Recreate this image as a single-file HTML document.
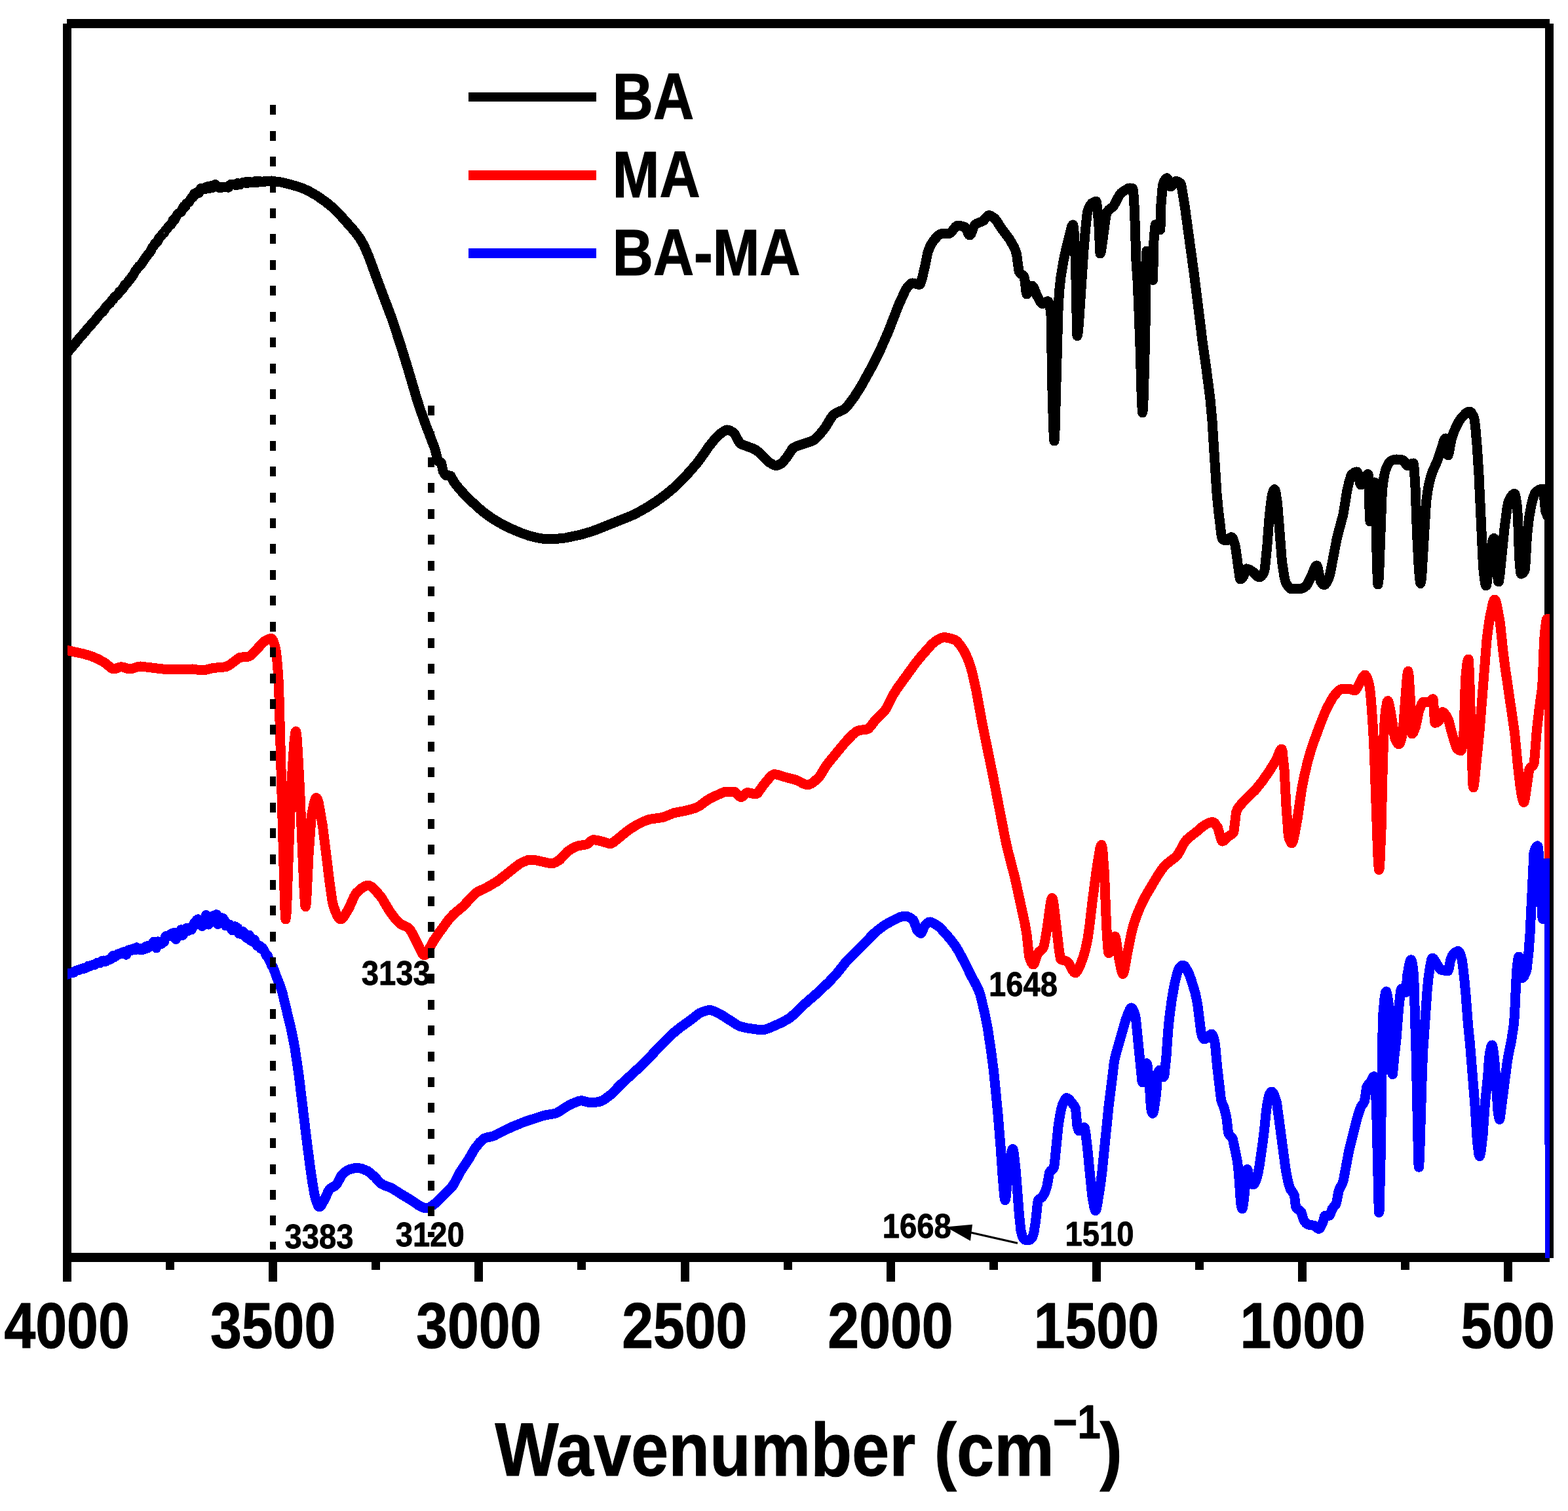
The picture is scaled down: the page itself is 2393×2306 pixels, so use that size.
<!DOCTYPE html>
<html lang="en"><head><meta charset="utf-8"><title>FTIR spectra of BA, MA and BA-MA</title>
<style>
html,body{margin:0;padding:0;background:#fff;}
body{width:2393px;height:2306px;overflow:hidden;}
svg{display:block;}
text{font-family:"Liberation Sans",sans-serif;font-weight:bold;fill:#000;}
.c{fill:none;stroke-width:15.0;stroke-linejoin:round;stroke-linecap:round;}
</style></head><body>
<svg width="2393" height="2306" viewBox="0 0 2393 2306">
<rect x="0" y="0" width="2393" height="2306" fill="#fff"/>
<defs><clipPath id="plot"><rect x="103" y="36" width="2262" height="1884"/></clipPath></defs>

<g fill="#000" shape-rendering="crispEdges">
<rect x="96" y="36" width="13" height="1919.5"/>
<rect x="102" y="29" width="2263" height="14"/>
<rect x="2358" y="36" width="13" height="1884"/>
<rect x="96" y="1912" width="2269" height="14"/>
<rect x="410.2" y="1919" width="13" height="36.5"/>
<rect x="724.3" y="1919" width="13" height="36.5"/>
<rect x="1038.5" y="1919" width="13" height="36.5"/>
<rect x="1352.6" y="1919" width="13" height="36.5"/>
<rect x="1666.8" y="1919" width="13" height="36.5"/>
<rect x="1980.9" y="1919" width="13" height="36.5"/>
<rect x="2295.1" y="1919" width="13" height="36.5"/>
<rect x="253.1" y="1919" width="13" height="19"/>
<rect x="567.2" y="1919" width="13" height="19"/>
<rect x="881.4" y="1919" width="13" height="19"/>
<rect x="1195.5" y="1919" width="13" height="19"/>
<rect x="1509.7" y="1919" width="13" height="19"/>
<rect x="1823.9" y="1919" width="13" height="19"/>
<rect x="2138.0" y="1919" width="13" height="19"/>
</g>
<g clip-path="url(#plot)" shape-rendering="crispEdges">
<polyline class="c" stroke="#000" points="102.5,538.3 104.5,536.4 106.5,533.4 108.5,531.7 122.5,514.4 124.5,512.8 128.5,507.5 130.5,506.0 132.5,502.9 142.5,491.7 154.5,477.1 156.5,476.0 158.5,473.7 160.5,470.2 162.5,467.7 168.5,462.0 170.5,458.5 172.5,457.1 174.5,453.8 180.5,448.5 182.5,444.9 184.5,443.5 188.5,438.9 190.5,434.8 194.5,431.7 196.5,428.0 198.5,426.3 200.5,423.1 202.5,420.9 206.5,413.9 212.5,406.0 214.5,404.9 220.5,395.5 228.5,385.1 230.5,382.1 232.5,377.4 234.5,375.4 236.5,371.8 238.5,370.5 240.5,368.6 242.5,363.8 246.5,359.4 248.5,356.4 250.5,355.5 252.5,351.5 254.5,349.8 256.5,346.8 258.5,344.5 260.5,343.1 262.5,340.6 264.5,335.2 266.5,335.2 270.5,327.6 274.5,324.2 276.5,323.4 280.5,315.1 282.5,315.9 284.5,310.5 288.5,308.3 290.5,304.5 292.5,301.8 294.5,301.1 296.5,295.4 298.5,296.0 300.5,293.5 302.5,295.1 304.5,292.9 306.5,287.6 308.5,287.4 312.5,288.6 314.5,285.5 316.5,284.8 318.5,287.5 320.5,287.1 322.5,283.4 324.5,286.5 326.5,282.9 328.5,281.4 330.5,284.2 332.5,285.0 334.5,286.5 336.5,286.9 338.5,285.6 344.5,285.1 346.5,285.3 348.5,286.2 350.5,282.9 352.5,281.2 354.5,281.7 356.5,281.2 358.5,281.5 360.5,282.9 362.5,279.6 366.5,281.8 368.5,279.4 370.5,278.4 372.5,278.7 374.5,277.8 376.5,279.8 378.5,277.5 380.5,277.3 382.5,278.9 384.5,278.6 386.5,277.8 388.5,278.6 390.5,276.3 392.5,278.4 396.5,276.7 398.5,277.7 400.5,277.2 402.5,277.8 404.5,276.1 406.5,276.9 410.5,276.9 414.5,276.0 416.5,276.7 418.5,276.5 420.5,277.2 424.5,277.2 436.0,279.6 452.5,284.1 460.0,286.6 471.0,291.4 483.5,298.7 497.0,308.0 509.5,318.4 519.5,328.6 541.5,353.4 549.5,364.2 555.5,374.5 563.5,393.4 576.0,427.7 598.5,487.4 612.0,528.5 623.0,564.3 635.5,606.8 641.0,624.0 649.0,646.3 663.0,683.0 664.5,687.7 668.0,702.1 669.0,704.0 672.5,705.6 673.5,706.9 676.5,719.8 678.5,723.3 680.0,725.0 681.5,725.9 687.0,726.0 688.0,726.5 693.0,736.0 701.5,746.7 714.5,760.6 731.0,775.8 739.5,782.8 748.5,789.3 758.0,795.4 767.5,800.8 780.5,807.1 796.5,813.9 807.5,817.6 819.0,820.5 830.0,822.5 835.5,823.0 849.0,822.4 863.0,820.9 886.5,815.9 902.0,811.3 910.5,808.3 959.5,788.7 968.0,785.0 977.0,780.3 990.0,772.7 1000.5,765.9 1012.0,757.8 1022.5,749.5 1031.0,742.1 1040.0,733.3 1053.5,718.8 1064.0,706.5 1069.5,699.3 1081.0,682.6 1091.0,670.0 1094.5,666.3 1101.5,660.2 1107.0,656.6 1109.5,656.0 1112.0,656.3 1114.5,657.3 1117.5,659.1 1120.0,661.0 1121.5,662.7 1127.5,673.9 1130.0,677.0 1133.0,678.5 1149.0,684.5 1154.5,687.3 1158.5,690.5 1174.0,705.6 1180.0,709.3 1183.5,710.5 1186.0,710.2 1188.5,709.3 1192.5,707.2 1194.5,705.5 1201.0,697.7 1208.5,686.0 1211.5,683.0 1216.5,680.7 1237.0,673.9 1241.0,672.1 1244.0,670.3 1250.0,664.4 1259.5,652.3 1268.0,638.2 1271.5,633.5 1276.0,630.3 1287.5,625.0 1290.0,623.2 1293.0,620.1 1304.0,605.4 1314.0,589.7 1332.0,557.2 1344.0,532.8 1355.5,506.6 1371.5,465.4 1382.0,442.5 1384.0,439.4 1387.0,435.9 1391.0,432.4 1392.5,432.0 1394.0,432.1 1402.5,434.5 1403.5,434.3 1404.5,433.1 1407.0,425.8 1411.5,407.3 1416.0,384.6 1420.0,374.8 1425.0,366.7 1431.5,359.8 1435.5,357.0 1437.5,356.5 1448.0,356.5 1450.0,355.8 1452.5,353.4 1458.0,346.5 1459.5,345.2 1461.0,344.5 1467.0,344.9 1472.5,346.3 1474.0,348.3 1478.5,357.9 1479.5,358.9 1480.5,358.8 1482.0,356.8 1486.0,346.4 1488.0,343.0 1491.5,340.8 1498.0,338.2 1501.0,336.6 1506.5,330.2 1508.5,328.8 1510.5,328.9 1513.5,330.2 1517.5,333.0 1520.0,335.6 1529.5,350.3 1541.0,365.6 1547.5,377.0 1549.5,381.7 1551.5,388.0 1554.5,410.6 1555.5,414.9 1557.5,417.5 1561.5,420.4 1563.0,422.6 1564.0,427.8 1566.0,445.2 1567.0,449.0 1568.0,448.4 1569.0,447.0 1573.5,437.2 1574.5,436.1 1575.5,436.1 1577.5,438.7 1582.5,450.8 1587.0,459.3 1589.0,462.4 1590.5,463.5 1592.0,463.4 1597.0,460.3 1599.0,459.7 1600.0,460.4 1601.0,462.6 1603.0,472.1 1604.0,481.9 1606.0,595.4 1607.5,648.5 1608.5,669.9 1609.0,673.0 1610.0,656.9 1615.0,473.9 1616.5,445.5 1619.0,422.1 1623.5,396.1 1627.0,379.8 1635.5,346.2 1637.0,343.2 1637.5,343.0 1638.0,344.3 1639.0,353.5 1640.0,369.6 1641.5,401.4 1643.5,503.3 1644.0,512.6 1645.0,509.1 1646.5,493.5 1654.0,380.9 1656.5,350.8 1659.0,327.0 1660.0,322.0 1661.0,319.1 1663.5,313.6 1666.0,310.4 1671.0,307.8 1673.0,307.5 1673.5,308.4 1675.0,319.9 1677.0,346.0 1679.0,387.0 1680.0,385.1 1681.0,380.1 1687.5,331.6 1689.0,324.7 1692.0,320.4 1697.5,316.3 1700.0,313.6 1708.0,298.4 1711.0,294.6 1714.5,291.9 1722.0,287.4 1724.5,287.0 1728.5,287.6 1729.0,288.6 1730.0,297.6 1731.5,321.0 1734.0,399.0 1736.0,428.0 1737.5,461.7 1740.0,528.5 1742.5,614.5 1743.5,629.9 1744.0,628.3 1745.0,611.2 1746.5,562.5 1748.0,499.2 1749.5,395.2 1750.0,383.0 1751.0,384.1 1752.0,386.9 1755.0,400.0 1758.0,421.8 1759.0,426.7 1759.5,427.4 1761.0,367.0 1762.5,347.5 1763.0,344.2 1763.5,343.0 1764.0,343.1 1765.5,344.5 1769.0,349.9 1770.5,351.0 1771.0,346.5 1772.0,311.5 1774.0,287.4 1775.0,281.1 1776.5,277.1 1779.0,272.9 1781.0,271.8 1781.5,272.1 1782.5,274.2 1785.0,282.6 1786.0,284.7 1787.0,284.9 1788.0,284.3 1793.0,277.7 1794.5,276.6 1795.5,276.5 1798.5,277.4 1801.5,279.6 1802.5,281.7 1803.5,286.0 1808.5,317.1 1823.0,423.1 1835.0,520.0 1841.5,566.2 1847.0,609.2 1850.0,642.6 1857.0,753.0 1859.5,779.1 1864.0,816.3 1865.5,822.7 1868.5,824.4 1871.0,824.9 1873.0,824.7 1877.5,820.5 1879.0,819.6 1880.5,820.3 1882.0,823.0 1884.5,830.3 1885.5,834.5 1891.5,878.3 1892.5,883.3 1893.0,884.0 1895.0,882.9 1897.5,879.9 1901.0,870.4 1902.5,868.0 1906.0,868.9 1912.5,872.9 1918.5,879.2 1921.0,880.9 1923.0,880.8 1925.0,879.5 1927.0,877.0 1929.0,873.6 1930.0,869.4 1931.5,857.1 1934.0,831.0 1937.0,790.9 1939.5,767.9 1941.5,754.9 1943.5,748.6 1945.0,746.6 1946.0,748.1 1947.0,751.9 1949.5,767.4 1956.5,857.2 1960.0,880.0 1961.5,886.6 1963.0,890.6 1967.5,896.9 1969.5,898.4 1971.0,899.0 1983.5,898.9 1987.0,897.9 1990.5,896.2 1993.5,894.1 1995.5,891.2 2002.0,877.9 2006.5,866.7 2008.0,864.1 2009.5,863.0 2010.0,863.3 2011.0,865.8 2015.5,887.5 2017.5,890.4 2019.5,892.2 2021.0,892.7 2022.5,892.0 2024.0,890.2 2026.0,886.5 2029.0,879.2 2030.0,875.5 2040.5,820.5 2050.0,785.0 2056.0,747.7 2059.5,733.4 2061.5,727.2 2063.0,724.2 2067.0,721.1 2069.0,720.3 2071.0,720.0 2071.5,720.4 2072.5,723.1 2075.5,736.9 2076.5,739.6 2077.0,740.0 2078.5,738.3 2081.5,731.2 2084.0,727.3 2086.0,724.6 2088.0,723.5 2088.5,728.9 2090.0,777.2 2091.0,796.0 2091.5,795.0 2092.5,788.1 2096.5,740.4 2097.5,736.0 2098.0,738.4 2099.0,762.0 2101.5,862.6 2102.5,888.2 2103.0,892.0 2104.0,884.8 2105.0,866.0 2109.0,757.8 2110.0,743.4 2111.5,732.1 2113.0,723.5 2114.5,717.5 2116.5,712.3 2119.0,707.5 2121.5,704.3 2124.0,702.8 2128.0,701.2 2131.5,701.0 2137.5,701.5 2141.5,702.3 2143.0,704.1 2146.0,709.1 2147.5,710.6 2150.0,710.2 2156.0,707.1 2157.0,707.0 2157.5,708.5 2158.5,718.8 2160.0,743.4 2162.5,814.0 2165.0,861.3 2166.5,882.2 2167.5,889.5 2168.0,890.5 2169.0,886.2 2170.0,874.8 2176.5,766.7 2179.5,744.9 2183.0,729.7 2186.5,719.1 2193.5,703.5 2203.5,673.2 2205.0,669.8 2206.0,669.0 2206.5,670.2 2209.0,692.0 2209.5,694.5 2210.0,694.9 2211.5,690.2 2215.0,670.8 2218.5,660.1 2222.0,651.8 2226.5,643.2 2230.5,637.2 2237.0,630.6 2239.5,628.9 2241.5,628.1 2243.5,628.2 2245.0,629.3 2246.5,631.3 2248.5,635.1 2250.0,639.0 2251.5,649.9 2254.5,684.8 2257.0,725.0 2263.5,864.2 2265.5,883.4 2266.5,889.9 2267.5,893.5 2268.0,894.0 2268.5,893.1 2269.0,890.6 2272.5,855.5 2275.5,837.1 2278.0,825.2 2279.0,822.5 2280.0,821.5 2281.0,827.3 2285.5,880.0 2286.5,887.0 2287.0,888.0 2287.5,887.2 2289.0,877.3 2296.0,806.4 2300.0,776.0 2301.5,767.9 2302.5,764.8 2305.5,758.9 2308.0,755.4 2310.5,753.6 2311.5,753.4 2312.0,753.8 2313.5,759.4 2315.0,770.5 2316.5,788.9 2318.5,848.8 2320.0,867.6 2321.0,874.9 2321.5,876.0 2324.0,874.9 2327.0,870.5 2328.0,861.2 2330.5,817.1 2333.5,790.8 2337.0,770.7 2340.0,759.4 2342.5,752.8 2344.0,750.7 2348.0,748.0 2351.5,746.5 2355.0,746.0 2356.0,751.5 2358.5,779.1 2361.5,787.5 2363.0,789.6 2364.0,790.0 2365.6,2000.0"/>
<polyline class="c" stroke="#f00" points="102.5,992.4 126.5,997.7 135.5,1000.2 143.0,1002.8 150.5,1006.3 160.0,1011.5 169.5,1019.3 171.5,1020.4 173.5,1021.0 176.0,1020.7 182.5,1018.2 185.0,1017.8 188.0,1018.2 195.5,1020.7 199.0,1021.0 202.5,1020.2 210.5,1017.5 214.5,1017.0 255.0,1021.8 265.5,1022.0 293.5,1021.0 306.0,1022.8 310.0,1023.0 314.0,1022.3 324.5,1019.5 340.5,1018.2 345.5,1017.4 350.5,1014.7 365.0,1003.8 368.5,1003.1 377.5,1002.3 380.5,1001.5 383.0,999.9 385.5,997.6 403.0,979.0 410.5,975.0 413.5,974.3 415.0,974.8 416.5,977.1 418.5,982.4 420.5,989.7 421.5,995.7 423.5,1014.7 425.5,1045.0 434.5,1376.8 435.5,1399.7 436.0,1403.0 437.0,1394.8 438.0,1373.9 440.5,1301.5 445.0,1192.0 449.0,1132.1 450.5,1118.9 451.5,1116.0 452.0,1117.1 453.0,1124.9 454.5,1147.0 457.5,1203.7 464.0,1355.0 465.5,1379.2 466.0,1383.0 466.5,1383.9 467.0,1381.3 468.0,1367.3 471.0,1305.0 475.0,1249.6 476.0,1241.8 479.0,1226.7 481.0,1220.0 482.0,1218.2 483.0,1217.5 484.5,1219.3 486.5,1226.2 492.5,1260.8 503.5,1350.2 507.0,1374.4 508.5,1381.4 511.0,1388.6 514.0,1396.0 516.5,1400.4 518.5,1402.5 520.5,1403.0 522.5,1401.9 524.5,1399.6 532.5,1386.3 540.5,1368.1 544.0,1362.5 550.5,1356.5 556.0,1352.9 558.5,1351.9 561.0,1351.4 563.0,1351.5 565.0,1352.2 567.5,1353.7 570.5,1356.3 580.5,1367.5 584.0,1372.7 594.0,1389.6 602.0,1400.5 606.5,1405.9 611.5,1410.3 621.5,1415.0 624.0,1416.8 625.5,1418.4 629.5,1425.0 637.5,1440.8 643.5,1453.7 645.5,1456.7 647.5,1457.8 649.5,1457.0 651.5,1454.7 661.5,1436.0 673.0,1419.4 686.5,1401.3 692.5,1395.0 707.0,1382.9 722.5,1366.2 726.0,1363.1 729.5,1360.8 743.5,1354.0 759.5,1344.6 789.0,1321.3 793.5,1318.1 797.5,1316.0 805.5,1312.7 808.5,1312.1 811.0,1312.0 818.5,1313.0 838.0,1317.3 841.5,1317.7 844.0,1317.5 848.0,1315.9 854.5,1312.0 865.5,1300.1 873.0,1295.0 878.0,1292.4 882.0,1290.9 895.0,1288.8 897.0,1287.6 902.5,1282.9 904.5,1281.9 907.5,1281.9 912.5,1282.7 919.5,1284.4 928.5,1287.2 931.0,1287.5 933.0,1287.2 937.0,1284.9 956.5,1269.0 962.5,1264.7 972.0,1258.8 982.0,1253.8 987.5,1251.6 992.5,1250.1 1011.5,1247.5 1028.5,1240.7 1047.5,1237.0 1061.0,1233.2 1067.0,1230.4 1077.5,1222.4 1083.0,1219.1 1091.0,1215.0 1105.5,1208.6 1109.0,1208.0 1121.0,1208.2 1123.0,1209.6 1128.5,1215.5 1131.0,1216.6 1133.0,1215.8 1138.0,1210.9 1140.0,1209.8 1143.5,1210.0 1151.0,1211.8 1154.0,1211.8 1155.5,1211.0 1157.5,1208.9 1164.5,1198.8 1174.5,1186.7 1177.5,1183.7 1180.5,1181.9 1183.0,1181.7 1187.0,1182.4 1197.0,1185.6 1213.0,1189.8 1217.0,1191.3 1226.0,1195.9 1230.0,1197.3 1234.0,1197.5 1238.5,1195.8 1243.5,1192.0 1250.0,1185.9 1253.0,1181.6 1260.0,1169.8 1264.5,1163.8 1290.5,1132.2 1300.5,1121.9 1305.5,1117.4 1309.5,1115.1 1313.0,1114.3 1322.5,1113.2 1325.5,1112.0 1328.5,1108.8 1336.0,1098.8 1349.0,1086.3 1353.0,1080.7 1363.0,1060.6 1369.5,1050.4 1397.5,1011.8 1407.0,1000.2 1422.0,983.3 1427.5,978.6 1433.5,975.0 1437.5,973.3 1440.0,972.8 1443.0,972.8 1451.0,974.4 1457.5,976.7 1460.5,978.8 1465.0,984.0 1470.5,992.1 1474.0,998.6 1478.0,1008.2 1481.5,1018.2 1484.0,1027.3 1490.0,1054.4 1498.5,1101.4 1515.0,1182.0 1534.5,1282.1 1538.5,1299.5 1549.0,1340.0 1564.0,1409.0 1567.0,1426.4 1570.5,1458.8 1572.0,1464.0 1574.0,1468.8 1576.0,1471.6 1577.0,1472.0 1578.0,1471.2 1579.5,1467.7 1583.5,1455.5 1585.5,1452.8 1590.5,1448.8 1592.0,1446.7 1593.0,1444.0 1594.5,1437.2 1598.5,1413.5 1603.5,1376.7 1604.5,1372.3 1605.5,1370.4 1606.0,1370.7 1607.0,1373.6 1608.5,1382.7 1616.5,1451.4 1618.5,1463.1 1619.0,1464.0 1620.5,1464.9 1627.0,1466.6 1629.5,1468.1 1632.0,1471.6 1637.0,1481.0 1639.5,1484.2 1641.0,1484.8 1642.0,1484.5 1644.5,1481.8 1648.0,1474.5 1653.5,1459.7 1656.5,1448.9 1660.0,1432.4 1662.5,1415.5 1667.5,1372.7 1673.0,1330.6 1678.5,1296.4 1680.0,1290.7 1681.0,1289.4 1682.0,1292.4 1683.0,1300.6 1685.5,1334.0 1688.5,1410.8 1690.5,1443.4 1691.5,1453.2 1692.0,1454.6 1693.5,1452.9 1699.5,1431.9 1701.0,1429.2 1701.5,1429.0 1702.0,1429.4 1703.5,1435.0 1707.0,1458.5 1710.5,1476.9 1712.0,1483.5 1713.5,1486.4 1714.5,1485.4 1716.0,1480.3 1720.0,1457.6 1727.5,1420.4 1730.5,1409.8 1734.5,1398.0 1740.5,1383.4 1748.0,1368.0 1765.0,1339.3 1772.5,1327.7 1776.5,1322.5 1780.0,1318.8 1792.0,1309.7 1797.0,1304.8 1800.0,1300.2 1807.0,1286.7 1811.0,1281.5 1815.5,1277.4 1826.0,1269.5 1835.5,1261.2 1840.5,1257.9 1846.0,1255.5 1849.5,1254.6 1852.0,1254.8 1854.0,1256.4 1858.5,1262.9 1863.5,1280.5 1864.5,1283.0 1865.5,1284.0 1868.0,1283.0 1874.0,1277.0 1880.5,1272.7 1882.5,1270.2 1883.0,1268.8 1886.5,1239.9 1889.0,1234.0 1891.5,1230.3 1899.5,1221.5 1915.5,1206.0 1926.5,1192.2 1936.5,1177.8 1945.0,1164.2 1948.5,1157.8 1953.0,1146.6 1955.0,1143.5 1956.0,1143.0 1957.0,1145.7 1960.0,1174.0 1963.0,1230.4 1966.0,1271.8 1967.0,1278.4 1968.5,1282.8 1970.5,1286.3 1971.5,1286.8 1972.0,1286.6 1973.0,1284.7 1974.0,1281.4 1976.0,1272.0 1980.0,1250.0 1986.5,1204.8 1990.5,1184.5 1995.0,1165.2 1999.5,1148.8 2004.5,1133.3 2015.0,1105.1 2022.0,1087.6 2026.5,1078.0 2033.5,1065.4 2037.0,1060.6 2043.0,1054.2 2046.0,1051.9 2049.0,1051.0 2059.5,1051.0 2066.0,1053.8 2067.5,1054.0 2068.5,1053.6 2071.0,1050.3 2080.5,1032.3 2082.5,1030.1 2084.0,1030.4 2086.0,1033.6 2088.0,1039.4 2090.0,1047.0 2091.5,1058.1 2093.5,1082.5 2095.5,1112.6 2097.5,1152.7 2102.5,1297.1 2103.5,1318.0 2104.5,1327.6 2105.0,1326.5 2106.0,1314.2 2108.0,1266.6 2110.5,1162.6 2112.0,1121.3 2113.5,1094.5 2115.0,1081.7 2117.0,1071.1 2118.0,1069.5 2119.0,1070.8 2120.5,1076.5 2124.0,1096.0 2127.5,1119.8 2129.0,1127.4 2131.5,1132.6 2133.5,1135.2 2135.0,1135.9 2136.5,1134.4 2138.5,1128.3 2141.0,1116.3 2147.0,1037.3 2148.0,1028.1 2149.0,1024.4 2150.0,1030.5 2151.0,1044.8 2152.5,1070.6 2154.0,1108.1 2155.0,1120.0 2156.0,1119.5 2157.0,1118.0 2160.5,1109.0 2165.5,1085.3 2168.5,1077.3 2170.5,1073.2 2172.0,1071.4 2173.0,1071.0 2182.0,1071.0 2183.0,1070.4 2186.0,1067.1 2187.0,1066.7 2187.5,1069.4 2189.0,1093.9 2190.0,1103.4 2193.0,1102.5 2196.0,1100.4 2197.0,1098.3 2200.0,1088.5 2201.0,1086.7 2202.5,1086.8 2204.0,1087.9 2207.0,1092.1 2211.0,1100.2 2216.5,1121.3 2222.5,1140.7 2223.5,1142.5 2225.0,1143.8 2227.5,1145.2 2229.5,1145.7 2230.5,1144.2 2231.5,1139.3 2234.0,1116.2 2236.5,1035.9 2239.0,1012.6 2240.0,1007.7 2241.0,1006.0 2241.5,1009.0 2242.5,1028.3 2247.0,1175.6 2248.0,1198.4 2248.5,1202.0 2249.0,1201.0 2250.0,1194.2 2258.0,1116.4 2269.0,976.4 2271.5,956.4 2274.0,941.0 2278.5,920.0 2280.0,915.9 2281.0,915.0 2282.5,916.7 2284.5,923.4 2289.5,951.3 2294.0,994.7 2296.5,1014.8 2311.5,1117.5 2316.5,1169.5 2320.0,1198.9 2322.0,1212.2 2323.5,1219.0 2325.0,1224.1 2325.5,1224.7 2326.0,1224.3 2327.5,1217.8 2333.5,1175.6 2334.0,1174.0 2335.5,1171.6 2338.5,1169.2 2340.0,1167.5 2341.0,1165.5 2341.5,1163.1 2345.5,1112.6 2349.5,1078.8 2353.5,1050.4 2354.5,1032.8 2356.5,977.7 2358.0,961.1 2359.5,949.1 2360.5,945.1 2361.0,944.5 2364.0,944.5 2365.6,2000.0"/>
<polyline class="c" stroke="#00f" points="102.5,1487.1 104.5,1486.6 106.5,1485.2 110.5,1484.9 112.5,1484.2 114.5,1482.0 118.5,1480.4 120.5,1480.5 122.5,1478.9 126.5,1478.8 128.5,1477.2 130.5,1477.4 132.5,1476.5 134.5,1474.3 136.5,1474.9 138.5,1473.4 140.5,1473.1 142.5,1472.0 144.5,1472.4 148.5,1469.3 152.5,1469.8 154.5,1467.4 156.5,1466.2 158.5,1466.0 160.5,1467.5 162.5,1466.9 164.5,1464.8 166.5,1465.1 168.5,1464.1 172.5,1458.4 174.5,1460.8 176.5,1459.4 180.5,1455.7 182.5,1456.1 184.5,1455.8 186.5,1453.5 188.5,1452.8 190.5,1453.6 192.5,1457.2 196.5,1449.7 198.5,1449.3 200.5,1450.7 202.5,1448.0 204.5,1447.7 206.5,1449.8 208.5,1445.8 210.5,1448.7 212.5,1447.1 214.5,1449.9 216.5,1449.8 220.5,1448.4 222.5,1444.7 224.5,1447.3 226.5,1443.2 228.5,1445.2 230.5,1441.8 232.5,1442.5 234.5,1437.2 236.5,1438.6 238.5,1446.9 240.5,1436.9 242.5,1441.9 244.5,1440.5 246.5,1440.6 248.5,1436.5 250.5,1437.2 252.5,1429.2 254.5,1428.2 256.5,1428.9 260.5,1425.4 262.5,1424.7 264.5,1429.7 266.5,1423.3 268.5,1433.4 270.5,1428.4 272.5,1425.3 274.5,1426.7 276.5,1418.8 278.5,1427.6 282.5,1421.8 284.5,1416.7 286.5,1421.0 290.5,1415.7 292.5,1418.8 296.5,1408.3 298.5,1410.5 300.5,1403.8 302.5,1402.9 304.5,1411.0 306.5,1411.2 308.5,1413.7 310.5,1411.1 312.5,1405.2 314.5,1396.6 318.5,1411.0 320.5,1408.3 322.5,1402.3 324.5,1401.6 326.5,1397.1 328.5,1396.9 330.5,1395.7 332.5,1410.6 334.5,1407.0 336.5,1400.1 338.5,1405.3 340.5,1401.4 342.5,1404.9 344.5,1412.8 346.5,1412.8 350.5,1411.0 352.5,1416.0 354.5,1419.8 356.5,1416.0 358.5,1413.8 362.5,1416.0 364.5,1424.8 366.5,1422.3 368.5,1426.0 370.5,1421.4 372.5,1423.5 374.5,1428.4 376.5,1431.5 378.5,1428.2 380.5,1427.3 382.5,1435.4 384.5,1432.1 386.5,1437.4 388.5,1434.3 390.5,1440.4 392.5,1443.4 394.5,1444.3 396.5,1443.4 398.5,1448.3 400.5,1446.4 404.5,1453.5 406.5,1458.8 408.5,1458.2 410.5,1464.8 412.5,1468.0 414.5,1473.0 416.5,1476.0 418.5,1480.8 422.5,1492.1 428.0,1505.8 431.0,1515.2 445.0,1573.6 450.0,1599.4 456.0,1640.0 467.5,1735.5 472.5,1774.5 477.0,1805.9 480.5,1825.7 483.5,1835.4 485.5,1840.1 486.5,1841.4 487.5,1841.8 488.5,1841.4 490.0,1839.9 496.0,1829.4 500.5,1819.0 502.5,1815.4 505.0,1813.2 511.0,1809.9 513.5,1807.7 515.5,1804.6 520.5,1795.0 524.0,1790.9 528.5,1787.2 532.5,1785.0 540.5,1782.9 546.5,1782.4 552.5,1783.6 561.0,1787.1 565.0,1790.0 572.0,1796.3 579.5,1804.4 582.5,1806.9 586.5,1808.9 595.5,1812.3 600.0,1814.6 612.5,1822.6 628.5,1832.2 640.0,1840.2 647.0,1843.3 651.5,1844.0 654.0,1843.4 656.5,1842.2 665.5,1835.6 677.0,1823.8 686.0,1815.4 689.5,1811.5 693.5,1805.5 702.0,1789.1 714.5,1770.4 724.5,1753.2 732.0,1743.6 737.5,1738.3 741.5,1736.4 751.0,1734.3 755.0,1732.9 767.5,1726.4 782.0,1719.5 800.0,1712.2 828.0,1703.0 834.0,1701.6 845.0,1699.7 849.5,1698.5 853.5,1696.3 862.5,1690.2 869.5,1686.3 874.5,1683.8 882.5,1680.7 886.0,1679.9 889.0,1679.9 899.0,1682.6 903.5,1683.0 915.0,1681.3 920.5,1679.0 925.5,1675.7 933.0,1669.8 948.0,1654.5 982.0,1623.4 1011.5,1592.2 1026.0,1578.0 1036.5,1569.3 1055.5,1555.6 1064.0,1548.8 1068.0,1546.1 1072.0,1544.3 1078.5,1542.2 1082.5,1541.6 1086.0,1541.9 1091.0,1543.7 1102.0,1549.4 1125.0,1564.2 1130.5,1566.8 1140.0,1569.0 1159.5,1571.7 1165.5,1571.6 1172.0,1569.8 1188.5,1562.6 1196.0,1559.0 1204.5,1554.0 1210.0,1549.6 1225.5,1534.5 1249.0,1514.0 1265.5,1498.2 1277.0,1485.9 1289.0,1470.6 1294.5,1464.3 1317.5,1441.5 1332.5,1425.9 1339.5,1419.6 1350.5,1411.7 1358.5,1407.0 1373.0,1399.7 1378.5,1398.2 1383.5,1398.3 1388.5,1400.3 1393.5,1403.9 1395.0,1406.7 1399.5,1419.3 1403.0,1423.2 1405.5,1424.4 1407.0,1422.7 1410.5,1414.0 1413.5,1410.5 1415.5,1408.6 1417.5,1407.3 1419.0,1407.0 1421.5,1407.4 1427.0,1410.2 1432.5,1414.0 1435.5,1416.6 1449.5,1432.3 1457.5,1442.7 1462.5,1450.8 1470.0,1464.6 1483.0,1490.8 1490.5,1504.6 1493.5,1511.1 1496.0,1518.0 1502.5,1544.8 1507.0,1567.2 1512.0,1600.2 1516.5,1634.2 1523.0,1700.2 1527.0,1749.5 1530.0,1793.6 1532.5,1823.5 1533.5,1830.7 1534.0,1831.7 1535.0,1828.0 1539.5,1782.3 1541.0,1770.4 1544.0,1756.4 1545.0,1754.1 1545.5,1753.7 1546.0,1754.1 1547.5,1761.5 1550.5,1789.1 1555.5,1854.9 1558.0,1878.0 1560.0,1886.6 1562.0,1890.4 1564.0,1892.2 1570.0,1892.6 1572.5,1891.7 1575.0,1889.3 1576.5,1885.5 1578.0,1880.0 1580.5,1864.2 1583.5,1836.4 1584.5,1831.7 1586.5,1829.5 1590.5,1827.0 1593.5,1822.4 1596.0,1816.2 1598.0,1809.8 1601.5,1789.9 1603.0,1787.3 1607.0,1783.9 1608.5,1781.2 1609.5,1775.0 1615.0,1719.5 1617.5,1703.1 1619.5,1693.2 1621.5,1686.2 1625.0,1678.5 1626.5,1676.4 1627.5,1675.7 1629.5,1676.1 1631.5,1677.8 1639.5,1687.4 1641.5,1691.5 1644.0,1718.0 1646.0,1725.2 1646.5,1725.8 1648.0,1725.5 1652.5,1721.6 1654.0,1720.7 1655.0,1720.8 1655.5,1722.1 1657.0,1730.9 1659.5,1751.2 1666.5,1823.2 1670.0,1843.4 1671.5,1847.4 1672.0,1847.6 1672.5,1847.0 1673.5,1844.0 1675.0,1836.1 1678.5,1814.6 1681.5,1792.3 1692.0,1688.8 1700.5,1620.0 1703.0,1608.8 1717.0,1559.6 1720.5,1549.4 1724.0,1541.2 1725.5,1538.7 1726.5,1538.0 1727.5,1538.3 1729.5,1541.2 1732.0,1548.2 1733.5,1554.7 1743.0,1650.6 1743.5,1651.7 1744.0,1651.0 1745.0,1647.4 1749.0,1624.4 1750.0,1622.6 1751.0,1625.2 1754.0,1651.7 1756.5,1690.9 1758.0,1697.7 1759.0,1699.4 1759.5,1699.0 1760.5,1696.4 1761.5,1691.6 1764.5,1670.0 1767.0,1638.5 1768.5,1634.5 1770.0,1633.0 1771.5,1634.6 1774.0,1640.8 1775.5,1643.3 1776.0,1643.5 1776.5,1642.7 1777.0,1640.5 1780.0,1611.8 1782.5,1575.6 1784.5,1554.5 1788.0,1527.6 1792.5,1501.5 1796.5,1485.6 1799.0,1478.6 1800.0,1477.0 1803.0,1474.0 1804.5,1473.2 1806.0,1473.1 1807.5,1474.0 1809.0,1475.8 1814.5,1485.7 1818.0,1495.3 1824.0,1515.1 1827.5,1531.7 1833.0,1575.0 1834.5,1581.2 1837.0,1585.5 1838.0,1586.0 1839.0,1585.9 1842.5,1583.8 1848.5,1578.1 1849.5,1578.1 1850.5,1579.3 1851.5,1581.6 1853.5,1588.5 1854.5,1593.8 1857.5,1626.8 1863.5,1678.1 1865.0,1683.2 1868.0,1690.0 1870.5,1699.5 1872.0,1707.0 1874.0,1724.3 1875.0,1730.0 1876.5,1732.4 1880.0,1735.6 1881.5,1738.9 1887.5,1767.7 1889.0,1777.0 1890.5,1791.2 1893.5,1835.0 1894.5,1840.9 1895.5,1844.3 1896.0,1844.8 1896.5,1843.8 1897.5,1837.6 1899.5,1820.3 1902.0,1792.4 1903.0,1785.5 1903.5,1784.5 1904.5,1786.9 1907.5,1802.9 1909.5,1805.6 1912.0,1807.5 1913.5,1807.6 1915.0,1805.7 1917.0,1800.8 1919.5,1792.7 1922.0,1779.5 1927.0,1745.0 1929.5,1724.9 1932.5,1694.6 1934.0,1684.8 1935.5,1676.6 1937.0,1670.9 1939.5,1666.5 1941.0,1666.0 1942.5,1667.1 1944.5,1670.7 1948.5,1682.7 1962.5,1787.1 1965.5,1801.9 1968.0,1811.3 1969.5,1815.1 1973.5,1820.3 1975.5,1824.7 1977.5,1841.3 1979.5,1844.6 1984.0,1847.7 1986.0,1850.0 1989.5,1861.8 1993.0,1866.6 1995.0,1868.3 1996.5,1869.0 2005.5,1870.2 2010.5,1874.6 2012.5,1875.5 2013.5,1875.2 2014.5,1874.2 2017.0,1869.6 2019.5,1863.5 2021.5,1856.0 2022.0,1855.4 2029.0,1855.2 2030.5,1852.4 2033.5,1844.2 2037.5,1839.7 2039.0,1837.4 2040.0,1833.8 2043.0,1818.0 2044.5,1814.1 2048.5,1806.5 2050.5,1800.2 2059.0,1754.8 2069.5,1712.8 2073.0,1700.3 2077.0,1689.0 2081.0,1683.7 2082.5,1680.7 2085.5,1659.8 2087.5,1656.0 2092.0,1651.0 2095.5,1643.9 2097.0,1642.6 2097.5,1643.8 2098.5,1652.7 2100.5,1687.0 2104.0,1837.3 2104.5,1850.6 2105.0,1849.8 2107.0,1771.8 2110.0,1576.1 2111.0,1545.0 2113.0,1523.4 2114.5,1514.7 2115.5,1513.0 2116.0,1513.5 2117.5,1519.5 2119.0,1530.0 2121.0,1560.0 2123.5,1620.5 2124.5,1635.2 2125.0,1639.3 2125.5,1639.7 2128.0,1612.0 2131.0,1585.7 2134.5,1540.5 2137.5,1513.5 2138.5,1509.3 2139.0,1509.0 2140.5,1510.1 2143.5,1514.1 2145.0,1515.0 2146.0,1509.0 2148.0,1487.0 2151.0,1470.7 2152.5,1465.8 2153.5,1464.7 2154.5,1466.3 2156.0,1474.4 2157.5,1488.3 2158.0,1499.7 2161.0,1603.6 2164.5,1764.3 2165.0,1777.6 2165.5,1781.3 2166.5,1766.4 2170.5,1633.6 2172.0,1600.4 2178.0,1513.3 2180.0,1492.4 2183.0,1472.1 2185.0,1463.3 2185.5,1462.3 2186.5,1462.1 2188.5,1464.0 2196.5,1477.4 2198.0,1479.4 2199.0,1480.0 2203.0,1481.0 2210.0,1481.7 2211.0,1479.5 2213.5,1465.8 2216.0,1459.1 2217.5,1456.6 2219.5,1454.6 2222.0,1452.7 2224.5,1451.6 2226.0,1451.6 2227.5,1453.4 2229.0,1457.2 2231.0,1464.0 2232.5,1473.6 2234.5,1491.5 2237.0,1518.0 2240.5,1564.1 2243.5,1593.6 2251.0,1687.4 2254.5,1743.1 2257.0,1762.2 2258.0,1764.6 2258.5,1764.1 2259.5,1760.5 2260.5,1754.2 2263.0,1732.5 2266.5,1682.8 2270.5,1644.0 2272.5,1615.6 2274.0,1605.1 2275.5,1597.9 2276.5,1595.3 2277.0,1595.0 2277.5,1595.6 2278.5,1599.7 2279.5,1606.7 2281.5,1625.8 2286.0,1695.9 2287.5,1705.5 2288.5,1708.4 2289.0,1707.8 2300.0,1622.6 2302.0,1610.3 2306.5,1588.6 2310.0,1565.8 2311.5,1548.8 2314.5,1483.5 2316.5,1465.1 2317.5,1460.6 2318.0,1460.0 2318.5,1460.9 2322.5,1492.9 2324.0,1492.4 2326.0,1489.9 2328.0,1485.5 2330.0,1479.4 2333.0,1452.8 2335.0,1425.0 2341.0,1301.0 2343.0,1294.9 2345.0,1291.7 2346.5,1291.0 2347.0,1291.6 2347.5,1294.0 2350.0,1320.8 2353.5,1393.9 2354.0,1400.7 2354.5,1402.5 2355.5,1394.1 2357.0,1369.8 2360.5,1325.1 2361.5,1318.0 2362.0,1317.0 2364.0,1317.0 2365.6,2000.0"/>
</g>
<g fill="#000" shape-rendering="crispEdges">
<rect x="411.5" y="160.3" width="9.8" height="15.0"/>
<rect x="411.5" y="199.7" width="9.8" height="15.0"/>
<rect x="411.5" y="239.1" width="9.8" height="15.0"/>
<rect x="411.5" y="278.6" width="9.8" height="15.0"/>
<rect x="411.5" y="318.0" width="9.8" height="15.0"/>
<rect x="411.5" y="357.4" width="9.8" height="15.0"/>
<rect x="411.5" y="396.8" width="9.8" height="15.0"/>
<rect x="411.5" y="436.2" width="9.8" height="15.0"/>
<rect x="411.5" y="475.7" width="9.8" height="15.0"/>
<rect x="411.5" y="515.1" width="9.8" height="15.0"/>
<rect x="411.5" y="554.5" width="9.8" height="15.0"/>
<rect x="411.5" y="593.9" width="9.8" height="15.0"/>
<rect x="411.5" y="633.3" width="9.8" height="15.0"/>
<rect x="411.5" y="672.8" width="9.8" height="15.0"/>
<rect x="411.5" y="712.2" width="9.8" height="15.0"/>
<rect x="411.5" y="751.6" width="9.8" height="15.0"/>
<rect x="411.5" y="791.0" width="9.8" height="15.0"/>
<rect x="411.5" y="830.4" width="9.8" height="15.0"/>
<rect x="411.5" y="869.9" width="9.8" height="15.0"/>
<rect x="411.5" y="909.3" width="9.8" height="15.0"/>
<rect x="411.5" y="948.7" width="9.8" height="15.0"/>
<rect x="411.5" y="988.1" width="9.8" height="15.0"/>
<rect x="411.5" y="1027.5" width="9.8" height="15.0"/>
<rect x="411.5" y="1067.0" width="9.8" height="15.0"/>
<rect x="411.5" y="1106.4" width="9.8" height="15.0"/>
<rect x="411.5" y="1145.8" width="9.8" height="15.0"/>
<rect x="411.5" y="1185.2" width="9.8" height="15.0"/>
<rect x="411.5" y="1224.6" width="9.8" height="15.0"/>
<rect x="411.5" y="1264.1" width="9.8" height="15.0"/>
<rect x="411.5" y="1303.5" width="9.8" height="15.0"/>
<rect x="411.5" y="1342.9" width="9.8" height="15.0"/>
<rect x="411.5" y="1382.3" width="9.8" height="15.0"/>
<rect x="411.5" y="1421.7" width="9.8" height="15.0"/>
<rect x="411.5" y="1461.2" width="9.8" height="15.0"/>
<rect x="411.5" y="1500.6" width="9.8" height="15.0"/>
<rect x="411.5" y="1540.0" width="9.8" height="15.0"/>
<rect x="411.5" y="1579.4" width="9.8" height="15.0"/>
<rect x="411.5" y="1618.8" width="9.8" height="15.0"/>
<rect x="411.5" y="1658.3" width="9.8" height="15.0"/>
<rect x="411.5" y="1697.7" width="9.8" height="15.0"/>
<rect x="411.5" y="1737.1" width="9.8" height="15.0"/>
<rect x="411.5" y="1776.5" width="9.8" height="15.0"/>
<rect x="411.5" y="1815.9" width="9.8" height="15.0"/>
<rect x="411.5" y="1855.4" width="9.8" height="15.0"/>
<rect x="411.5" y="1894.8" width="9.8" height="12.2"/>
<rect x="653.1" y="619.0" width="9.8" height="15.0"/>
<rect x="653.1" y="658.4" width="9.8" height="15.0"/>
<rect x="653.1" y="697.8" width="9.8" height="15.0"/>
<rect x="653.1" y="737.3" width="9.8" height="15.0"/>
<rect x="653.1" y="776.7" width="9.8" height="15.0"/>
<rect x="653.1" y="816.1" width="9.8" height="15.0"/>
<rect x="653.1" y="855.5" width="9.8" height="15.0"/>
<rect x="653.1" y="894.9" width="9.8" height="15.0"/>
<rect x="653.1" y="934.4" width="9.8" height="15.0"/>
<rect x="653.1" y="973.8" width="9.8" height="15.0"/>
<rect x="653.1" y="1013.2" width="9.8" height="15.0"/>
<rect x="653.1" y="1052.6" width="9.8" height="15.0"/>
<rect x="653.1" y="1092.0" width="9.8" height="15.0"/>
<rect x="653.1" y="1131.5" width="9.8" height="15.0"/>
<rect x="653.1" y="1170.9" width="9.8" height="15.0"/>
<rect x="653.1" y="1210.3" width="9.8" height="15.0"/>
<rect x="653.1" y="1249.7" width="9.8" height="15.0"/>
<rect x="653.1" y="1289.1" width="9.8" height="15.0"/>
<rect x="653.1" y="1328.6" width="9.8" height="15.0"/>
<rect x="653.1" y="1368.0" width="9.8" height="15.0"/>
<rect x="653.1" y="1407.4" width="9.8" height="15.0"/>
<rect x="653.1" y="1446.8" width="9.8" height="15.0"/>
<rect x="653.1" y="1486.2" width="9.8" height="15.0"/>
<rect x="653.1" y="1525.7" width="9.8" height="15.0"/>
<rect x="653.1" y="1565.1" width="9.8" height="15.0"/>
<rect x="653.1" y="1604.5" width="9.8" height="15.0"/>
<rect x="653.1" y="1643.9" width="9.8" height="15.0"/>
<rect x="653.1" y="1683.3" width="9.8" height="15.0"/>
<rect x="653.1" y="1722.8" width="9.8" height="15.0"/>
<rect x="653.1" y="1762.2" width="9.8" height="15.0"/>
<rect x="653.1" y="1801.6" width="9.8" height="15.0"/>
<rect x="653.1" y="1841.0" width="9.8" height="15.0"/>
<rect x="653.1" y="1880.4" width="9.8" height="7.6"/>
</g>
<g shape-rendering="crispEdges">
<rect x="715" y="141" width="195" height="14" fill="#000"/>
<rect x="715" y="260.3" width="195" height="14.5" fill="#f00"/>
<rect x="715" y="379.3" width="195" height="14.5" fill="#00f"/>
</g>
<text transform="translate(755.5,2251.8) scale(1,1.122)" font-size="102.8" stroke="#000" stroke-width="1.0" stroke-linejoin="round">Wavenumber (cm<tspan x="851.50" y="-50.80" font-size="64" stroke-width="0.8">−1</tspan><tspan x="923.00" y="0">)</tspan></text>
<text transform="translate(934.8,181.8) scale(1,1.16)" font-size="86" text-anchor="start" stroke="#000" stroke-width="1.0" stroke-linejoin="round">BA</text>
<text transform="translate(934.8,301) scale(1,1.16)" font-size="86" text-anchor="start" stroke="#000" stroke-width="1.0" stroke-linejoin="round">MA</text>
<text transform="translate(934.8,420) scale(1,1.16)" font-size="86" text-anchor="start" stroke="#000" stroke-width="1.0" stroke-linejoin="round">BA-MA</text>
<text transform="translate(102.1,2056.5) scale(1,1.15)" font-size="86" text-anchor="middle" stroke="#000" stroke-width="1.0" stroke-linejoin="round">4000</text>
<text transform="translate(416.6,2056.5) scale(1,1.15)" font-size="86" text-anchor="middle" stroke="#000" stroke-width="1.0" stroke-linejoin="round">3500</text>
<text transform="translate(730.8,2056.5) scale(1,1.15)" font-size="86" text-anchor="middle" stroke="#000" stroke-width="1.0" stroke-linejoin="round">3000</text>
<text transform="translate(1044.8,2056.5) scale(1,1.15)" font-size="86" text-anchor="middle" stroke="#000" stroke-width="1.0" stroke-linejoin="round">2500</text>
<text transform="translate(1359,2056.5) scale(1,1.15)" font-size="86" text-anchor="middle" stroke="#000" stroke-width="1.0" stroke-linejoin="round">2000</text>
<text transform="translate(1673.3,2056.5) scale(1,1.15)" font-size="86" text-anchor="middle" stroke="#000" stroke-width="1.0" stroke-linejoin="round">1500</text>
<text transform="translate(1988.2,2056.5) scale(1,1.15)" font-size="86" text-anchor="middle" stroke="#000" stroke-width="1.0" stroke-linejoin="round">1000</text>
<text transform="translate(2301.2,2056.5) scale(1,1.15)" font-size="86" text-anchor="middle" stroke="#000" stroke-width="1.0" stroke-linejoin="round">500</text>
<text transform="translate(604.2,1502.8) scale(1,1.106)" font-size="47.2" text-anchor="middle" stroke="#000" stroke-width="0.8" stroke-linejoin="round">3133</text>
<text transform="translate(487.0,1904.8) scale(1,1.106)" font-size="47.2" text-anchor="middle" stroke="#000" stroke-width="0.8" stroke-linejoin="round">3383</text>
<text transform="translate(656.2,1901.8) scale(1,1.106)" font-size="47.2" text-anchor="middle" stroke="#000" stroke-width="0.8" stroke-linejoin="round">3120</text>
<text transform="translate(1561.5,1519.8) scale(1,1.106)" font-size="47.2" text-anchor="middle" stroke="#000" stroke-width="0.8" stroke-linejoin="round">1648</text>
<text transform="translate(1399.2,1889.3) scale(1,1.106)" font-size="47.2" text-anchor="middle" stroke="#000" stroke-width="0.8" stroke-linejoin="round">1668</text>
<text transform="translate(1678,1901.3) scale(1,1.106)" font-size="47.2" text-anchor="middle" stroke="#000" stroke-width="0.8" stroke-linejoin="round">1510</text>
<line x1="1553" y1="1897.3" x2="1476" y2="1879.8" stroke="#000" stroke-width="3.2"/>
<polygon points="1443.5,1872.5 1484,1868.8 1481,1893.8" fill="#000"/>
</svg></body></html>
